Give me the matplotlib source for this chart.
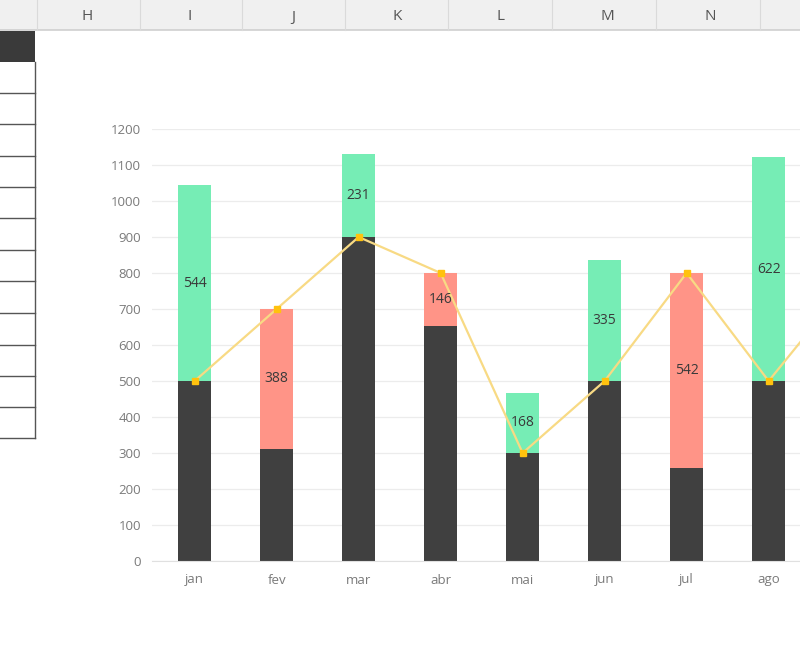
import matplotlib.pyplot as plt
from matplotlib.patches import Rectangle
from matplotlib.lines import Line2D

# === DATA ===
months = ["jan", "fev", "mar", "abr", "mai", "jun", "jul", "ago", "set"]
target = [500, 700, 900, 800, 300, 500, 800, 500, 780]
actual = [1044, 312, 1131, 654, 468, 835, 258, 1122]

col_letters = ["H", "I", "J", "K", "L", "M", "N"]
col_letter_x = [87, 190, 293, 397, 501, 607, 710]
col_sep_x = [37, 140, 242, 345, 448, 552, 656, 760]
table_rows_y = [62, 93, 124, 156, 187, 218, 250, 281, 313, 345, 376, 407, 438]

# === COLORS ===
DARK = "#404040"
GREEN = "#76EDB5"
RED = "#FF9487"
LINE = "#F8DA84"
MARK = "#FFC20E"

W, H = 800, 650
plt.rcParams["font.family"] = ["Open Sans", "DejaVu Sans"]
fig = plt.figure(figsize=(W / 100, H / 100), dpi=100)


def fx(px):
    return px / W


def fy(py):
    return 1 - py / H


# === EXCEL-LIKE BACKGROUND ===
fig.add_artist(Rectangle((0, fy(30)), 1, 30 / H, transform=fig.transFigure,
                         facecolor="#f0f0f0", edgecolor="none"))
fig.add_artist(Line2D([0, 1], [fy(30), fy(30)], transform=fig.transFigure,
                      color="#cfcfcf", lw=1.2))
for x in col_sep_x:
    fig.add_artist(Line2D([fx(x), fx(x)], [fy(0), fy(30)], transform=fig.transFigure,
                          color="#dadada", lw=0.8))
for lab, x in zip(col_letters, col_letter_x):
    fig.text(fx(x), fy(17), lab, ha="center", va="center", fontsize=11, color="#555555")

# left table fragment
fig.add_artist(Rectangle((0, fy(62)), fx(35), 31 / H, transform=fig.transFigure,
                         facecolor="#3a3a3a", edgecolor="none"))
for y in table_rows_y[1:]:
    fig.add_artist(Line2D([0, fx(35)], [fy(y), fy(y)], transform=fig.transFigure,
                          color="#555555", lw=1))
fig.add_artist(Line2D([fx(35), fx(35)], [fy(62), fy(438)], transform=fig.transFigure,
                      color="#555555", lw=1))

# === CHART ===
n_show = 9
xl, xr = -0.52, n_show - 0.5
ax_left, step = 152, 82
ax_w = (xr - xl) * step
ax = fig.add_axes([fx(ax_left), fy(561), ax_w / W, (561 - 129) / H])

x = list(range(len(actual)))
base = [min(a, t) for a, t in zip(actual, target)]
diff = [a - t for a, t in zip(actual, target)]

ax.bar(x, base, width=0.41, color=DARK, zorder=2)
for i, d in enumerate(diff):
    if d >= 0:
        ax.bar(i, d, bottom=target[i], width=0.41, color=GREEN, zorder=2)
    else:
        ax.bar(i, -d, bottom=actual[i], width=0.41, color=RED, zorder=2)
    ax.text(i, (actual[i] + target[i]) / 2, f"{abs(d)}", ha="center", va="center",
            fontsize=10, color="#3a3a3a", zorder=4)

ax.plot(range(len(target)), target, color=LINE, lw=1.6, zorder=3,
        marker="s", markersize=5, markerfacecolor=MARK, markeredgecolor=MARK)

ax.set_xlim(xl, xr)
ax.set_ylim(0, 1200)
ax.set_yticks(range(0, 1201, 100))
ax.set_xticks(x)
ax.set_xticklabels(months[:len(actual)])
ax.grid(axis="y", color="#ececec", lw=0.9, zorder=0)
ax.tick_params(length=0, labelsize=9.5, colors="#7a7a7a", pad=8)
ax.tick_params(axis="x", pad=9)
for s in ["top", "right", "left"]:
    ax.spines[s].set_visible(False)
ax.spines["bottom"].set_color("#e0e0e0")

fig.savefig("out.png", dpi=100)
